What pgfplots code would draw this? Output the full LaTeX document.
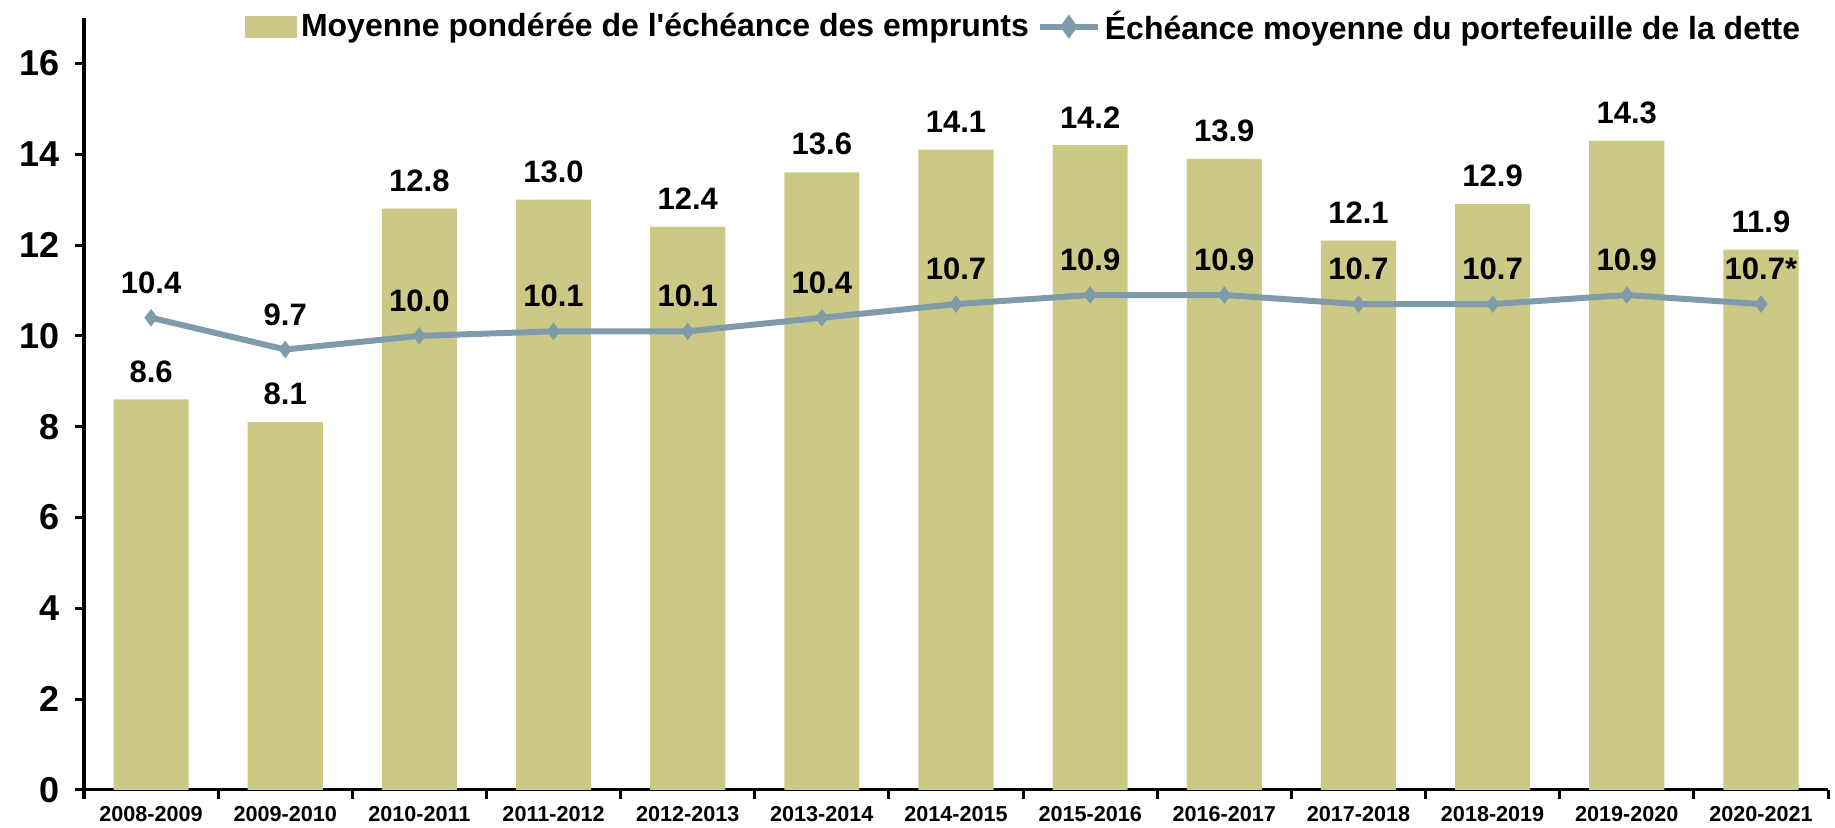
\documentclass[border=0pt]{standalone}
\usepackage{fontspec}
\setmainfont{Liberation Sans}
\usepackage{pgfplots}
\usepackage{pgfplotstable}
\pgfplotsset{compat=1.18}
\definecolor{barc}{HTML}{CCC987}
\definecolor{linec}{HTML}{7F9BAA}
\pgfplotstableread{
x bar blab line llab
0 8.6 8.6 10.4 10.4
1 8.1 8.1 9.7 9.7
2 12.8 12.8 10.0 10.0
3 13.0 13.0 10.1 10.1
4 12.4 12.4 10.1 10.1
5 13.6 13.6 10.4 10.4
6 14.1 14.1 10.7 10.7
7 14.2 14.2 10.9 10.9
8 13.9 13.9 10.9 10.9
9 12.1 12.1 10.7 10.7
10 12.9 12.9 10.7 10.7
11 14.3 14.3 10.9 10.9
12 11.9 11.9 10.7 10.7*
}\datatable
\begin{document}
\begin{tikzpicture}
\begin{axis}[
 scale only axis, width=872pt, height=386pt,
 xmin=-0.5, xmax=12.5, ymin=0, ymax=17,
 axis lines*=left,
 axis line style={line width=1.5pt, black},
 ytick={0,2,...,16},
 xtick={-0.5,0.5,...,12.5},
 x tick label as interval,
 xticklabels={2008-2009,2009-2010,2010-2011,2011-2012,2012-2013,2013-2014,2014-2015,2015-2016,2016-2017,2017-2018,2018-2019,2019-2020,2020-2021},
 tick style={line width=1.5pt, black},
 tick align=outside, major tick length=4.5pt,
 /pgf/number format/assume math mode=true,
 yticklabel style={font=\fontsize{18}{18}\selectfont\bfseries, xshift=-4pt},
 xticklabel style={font=\fontsize{10.8}{10.8}\selectfont\bfseries},
 legend style={at={(0.99,1.02)}, anchor=north east, draw=none, fill=none,
   font=\fontsize{16}{16}\selectfont\bfseries,
   /tikz/every even column/.append style={column sep=2pt}},
 legend columns=2,
 clip=false,
]
\addplot[ybar, bar width=0.56, fill=barc, draw=none,
  point meta=explicit symbolic,
  nodes near coords, every node near coord/.append style={font=\fontsize{15.5}{15.5}\selectfont\bfseries, black, yshift=5pt},
  legend image code/.code={\fill[barc] (0pt,-5.5pt) rectangle (26pt,5.5pt);}]
  table[x=x, y=bar, meta=blab]{\datatable};
\addlegendentry{Moyenne pondérée de l\textquotesingle échéance des emprunts}
\addplot[linec, line width=3pt, mark=diamond*, mark size=4pt, mark options={fill=linec, draw=linec, line width=0.5pt},
  point meta=explicit symbolic,
  nodes near coords, every node near coord/.append style={font=\fontsize{15.5}{15.5}\selectfont\bfseries, black, yshift=8.5pt},
  legend image code/.code={\draw[linec, line width=3pt] (0pt,0pt) -- (29pt,0pt);
     \fill[linec] (14.5pt,3.5pt) -- (17pt,0pt) -- (14.5pt,-3.5pt) -- (12pt,0pt) -- cycle;}]
  table[x=x, y=line, meta=llab]{\datatable};
\addlegendentry{Échéance moyenne du portefeuille de la dette}
\coordinate (bl) at (rel axis cs:0,0);
\coordinate (tr) at (rel axis cs:1,1);
\end{axis}
\pgfresetboundingbox
\path ([xshift=-42pt,yshift=-19pt]bl) rectangle ([xshift=3.5pt,yshift=9pt]tr);
\end{tikzpicture}
\end{document}
